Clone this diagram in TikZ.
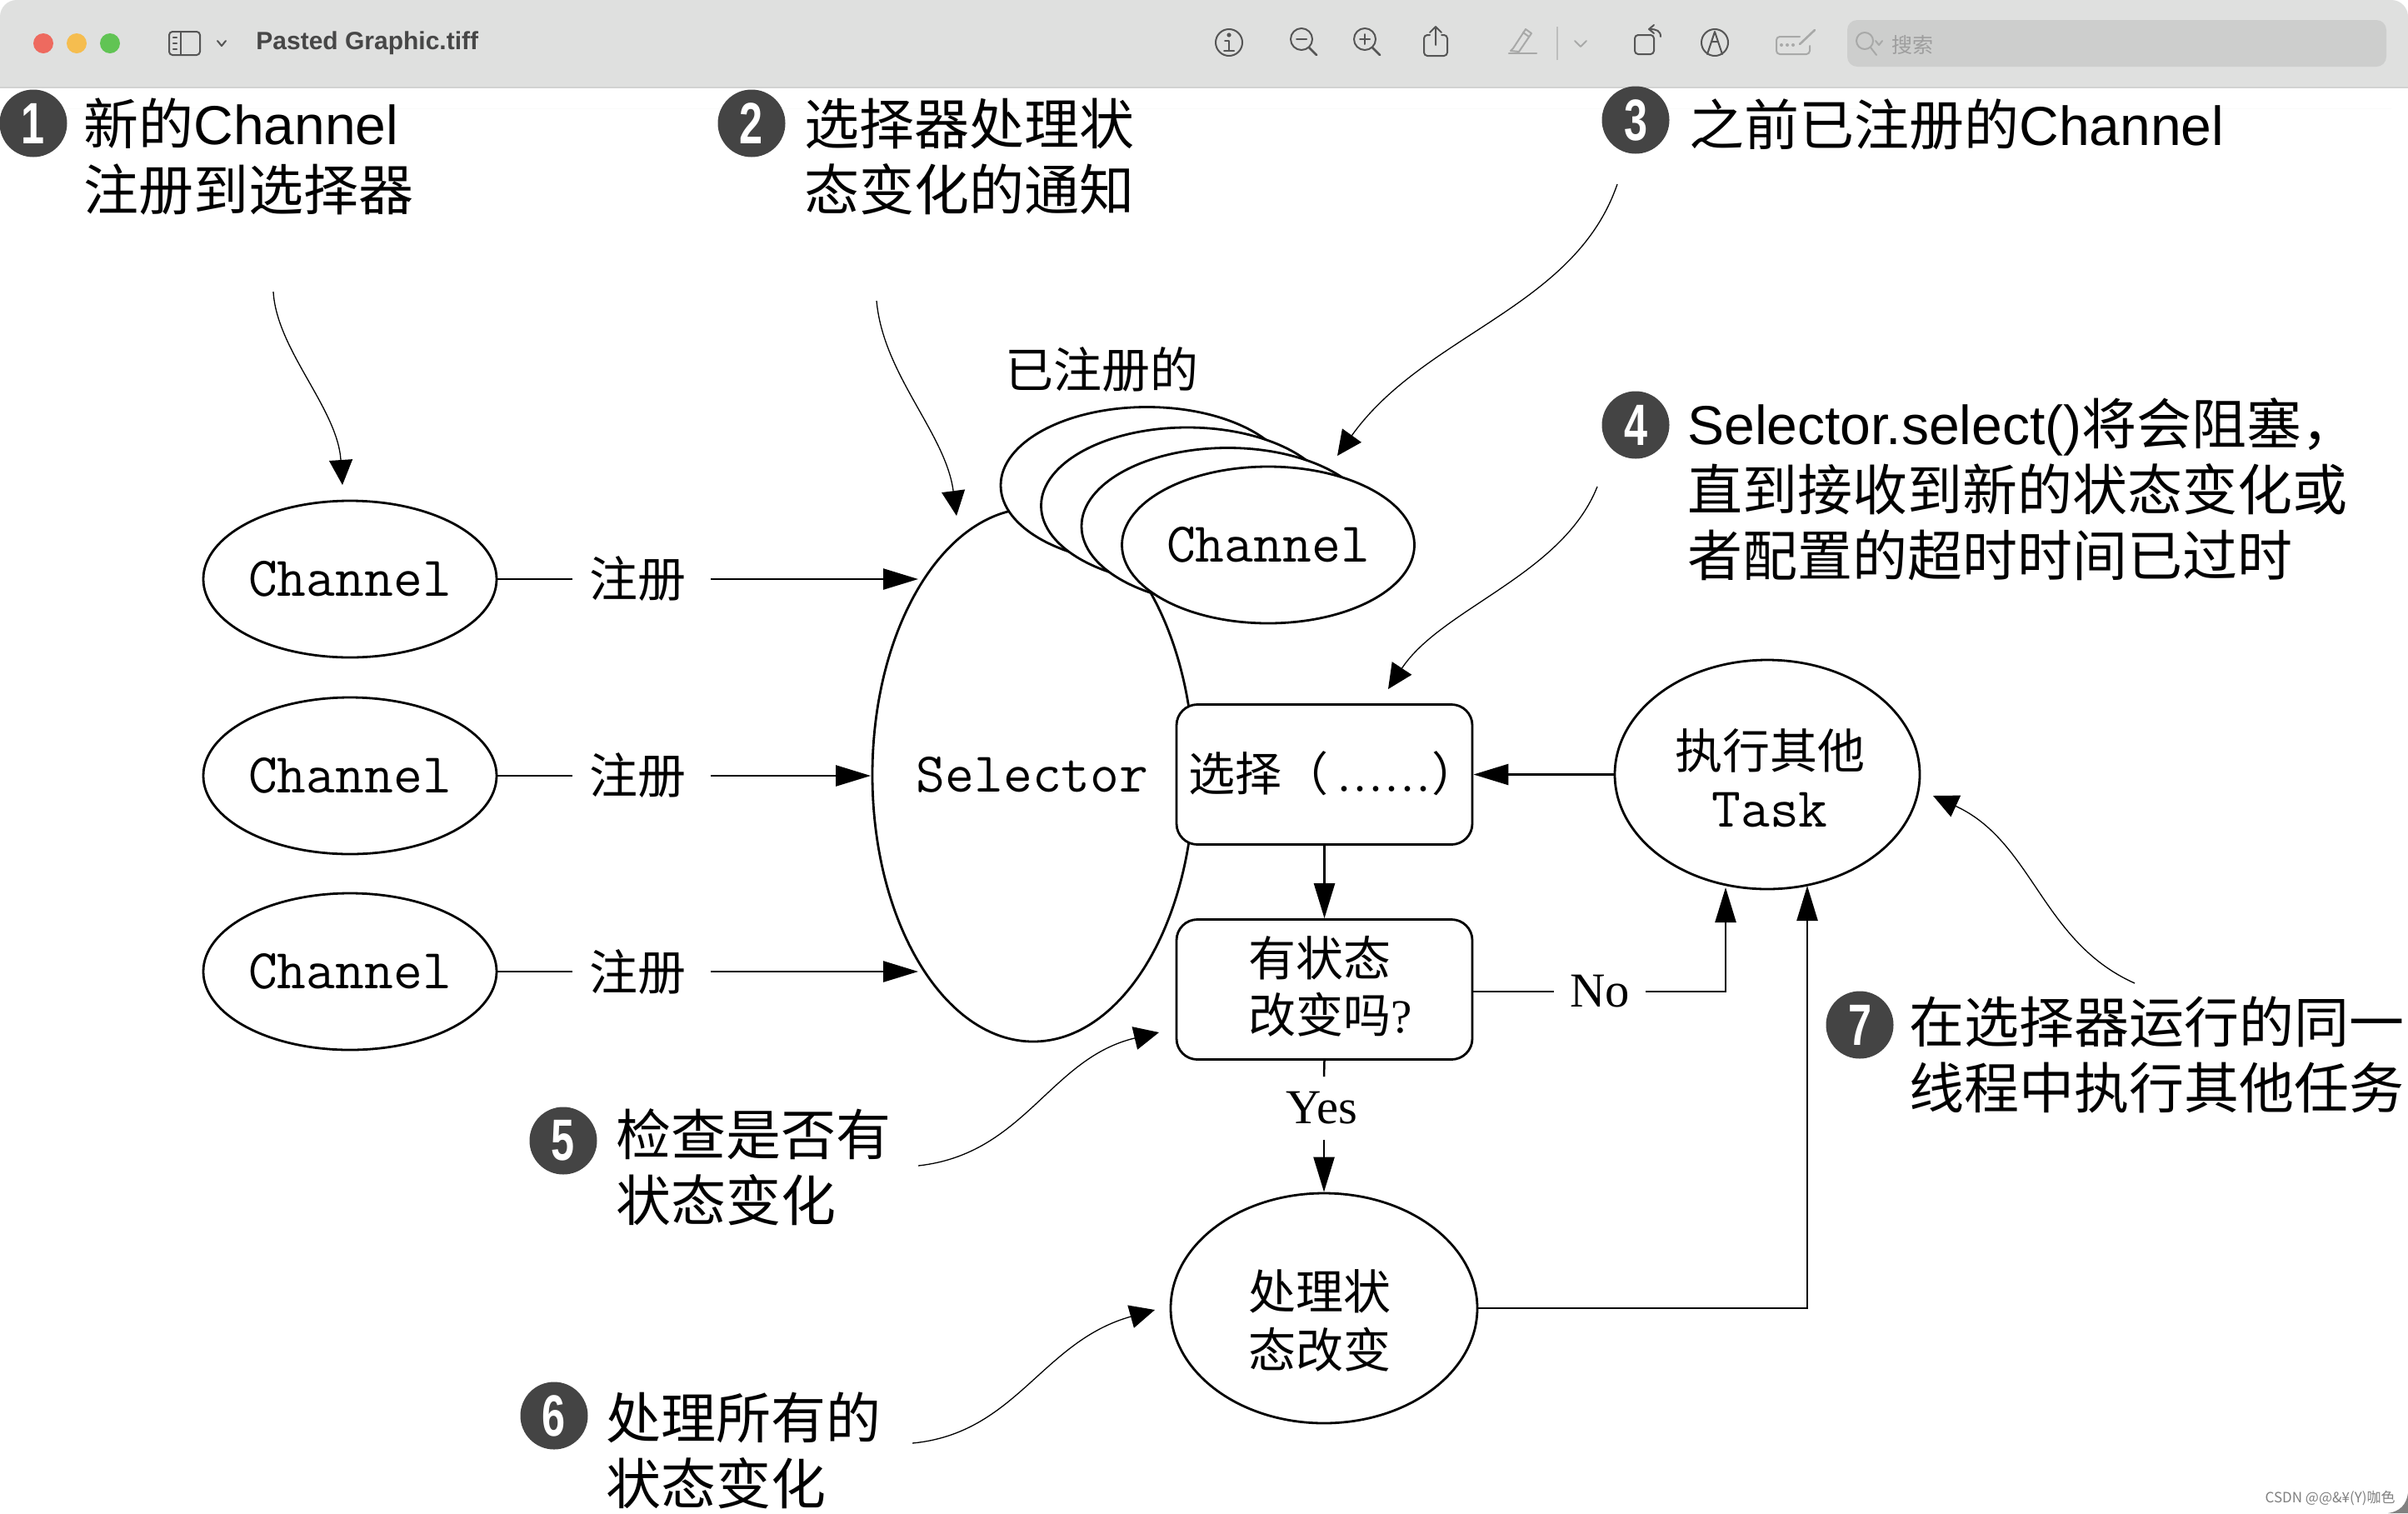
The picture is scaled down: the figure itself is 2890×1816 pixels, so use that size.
\documentclass[tikz,border=0pt]{standalone}
\usepackage{fontspec}
\usetikzlibrary{shapes.geometric,arrows.meta}
\setmainfont{Liberation Sans}
\newfontfamily\cjk{Noto Sans CJK SC}
\newfontfamily\serf{Liberation Serif}
\newfontfamily\numf[FakeStretch=0.72]{Liberation Sans Bold}
\definecolor{barbg}{HTML}{DFE0DF}
\definecolor{barline}{HTML}{D2D3D2}
\definecolor{searchbg}{HTML}{CDCECD}
\definecolor{icondark}{HTML}{555555}
\definecolor{iconlight}{HTML}{A8A9A8}
\definecolor{badge}{HTML}{444444}
\newcommand\monotxt{\fontsize{33.8}{35}\ttfamily}
\newcommand\regtxt{\hspace*{-2.5pt}\raisebox{1pt}{注册}\hspace*{2.5pt}}
\newcommand\dott{\makebox[9.5pt]{.}}
\tikzset{
  x=0.5pt,y=-0.5pt,
  bigtip/.tip={Triangle[length=21pt,width=12.5pt]},
  smalltip/.tip={Triangle[length=15pt,width=14pt]},
  shape line/.style={draw=black,line width=1.4pt,fill=white},
  oval/.style={shape line,ellipse,inner sep=0pt,align=center},
  chanoval/.style={oval,minimum width=176pt,minimum height=94pt,font=\monotxt},
  stepbox/.style={shape line,rectangle,rounded corners=12.5pt,inner sep=0pt,minimum width=177.5pt,minimum height=84pt},
  conn/.style={draw=black,line width=1.25pt,-{bigtip}},
  plainconn/.style={draw=black,line width=1.25pt},
  callconn/.style={draw=black,line width=0.65pt,-{smalltip}},
  reglabel/.style={inner sep=0pt,minimum width=82.5pt,minimum height=30pt,font=\fontsize{29}{30}\cjk},
  inlabel/.style={inner sep=0pt,align=center,font=\fontsize{28.5}{35}\cjk},
  badgenode/.style={circle,fill=badge,minimum size=40.5pt,inner sep=0pt,text=white,font=\fontsize{35}{35}\numf},
  callout/.style={anchor=west,inner sep=0pt,align=left,font=\fontsize{33}{39.6}\selectfont},
  icon/.style={draw=icondark,line width=1pt,line cap=round,line join=round},
  iconl/.style={draw=iconlight,line width=1pt,line cap=round,line join=round},
}
\begin{document}
\begin{tikzpicture}
\useasboundingbox (0,0) rectangle (2890,1816);
\fill[white] (0,0) rectangle (2890,1816);
% bottom right window corner
\fill[black!50] (2890,1816) -- (2866,1816) .. controls (2880,1814) and (2888,1806) .. (2890,1792) -- cycle;
% title bar
\fill[barbg,rounded corners=10pt] (0,0) rectangle (2890,130);
\fill[barbg] (0,60) rectangle (2890,105);
\fill[white] (0,105) rectangle (2890,130);
\fill[barline] (0,104) rectangle (2890,106);
\fill[searchbg,rounded corners=6pt] (2217,24) rectangle (2864,80);
% traffic lights
\fill[fill={rgb,255:red,238;green,106;blue,95}] (52,52) circle[radius=12];
\fill[fill={rgb,255:red,245;green,189;blue,79}] (92,52) circle[radius=12];
\fill[fill={rgb,255:red,97;green,196;blue,84}] (132,52) circle[radius=12];
% sidebar icon
\draw[icon,rounded corners=2pt] (203,38) rectangle (240,66);
\draw[icon] (217,38) -- (217,66);
\draw[icon,line width=1.1pt] (208,45) -- (212,45) (208,52) -- (212,52) (208,59) -- (212,59);
\draw[icon] (261,49) -- (266,55) -- (271,49);
\node[anchor=west,inner sep=0pt,text=black!72,font=\fontsize{15}{16}\bfseries] (wintitle) at (307,52) {Pasted Graphic.tiff};
% toolbar icons
\draw[icon] (1475,51) circle[radius=16];
\fill[icondark] (1475,42) circle[radius=2.6];
\draw[icon] (1470,49) -- (1475,49) -- (1475,61) (1469,61) -- (1481,61);
\draw[icon] (1562,47) circle[radius=13];
\draw[icon] (1556,47) -- (1568,47);
\draw[icon,line width=1.4pt] (1571,57) -- (1580,66);
\draw[icon] (1638,47) circle[radius=13];
\draw[icon] (1632,47) -- (1644,47) (1638,41) -- (1638,53);
\draw[icon,line width=1.4pt] (1647,57) -- (1656,66);
\draw[icon,rounded corners=2pt] (1716,42) -- (1709,42) -- (1709,67) -- (1737,67) -- (1737,42) -- (1730,42);
\draw[icon] (1723,54) -- (1723,32) (1716,39) -- (1723,32) -- (1730,39);
\draw[iconl] (1816,58) -- (1831,35) -- (1838,40) -- (1823,62) -- (1813,61) -- cycle (1828,39) -- (1835,44);
\draw[iconl,line width=1.3pt] (1811,64) -- (1844,64);
\draw[draw=barline!90!black,line width=0.6pt] (1869,32) -- (1869,72);
\draw[iconl] (1890,49) -- (1897,56) -- (1904,49);
\draw[icon,rounded corners=2pt] (1962,42) rectangle (1985,65);
\draw[icon] (1993,44) .. controls (1993,37) and (1988,35) .. (1980,35) (1985,30) -- (1979,35) -- (1985,40);
\draw[icon] (2058,51) circle[radius=16];
\draw[icon] (2049,65) -- (2058,38) -- (2067,65) (2054,50) -- (2062,50);
\draw[iconl,rounded corners=2pt] (2172,55) -- (2172,65) -- (2132,65) -- (2132,44) -- (2160,44);
\fill[iconlight] (2138,54) circle[radius=2] (2145,54) circle[radius=2] (2152,54) circle[radius=2];
\draw[iconl,line width=1.3pt] (2160,53) -- (2178,36);
\draw[iconl] (2238,49) circle[radius=10];
\draw[iconl] (2245,57) -- (2252,66);
\draw[iconl] (2251,49) -- (2255,54) -- (2259,49);
\node[inner sep=0pt,text=black!38,font=\fontsize{12.5}{13}\cjk] (searchtext) at (2295,54) {搜索};

% main shapes
\node[oval,minimum width=193pt,minimum height=320pt] (sel) at (1240,930) {};
\node[inner sep=0pt,font=\monotxt] (seltitle) at (1239,930) {Selector};
\node[oval,minimum width=175.5pt,minimum height=94pt] (st1) at (1376.5,582.5) {};
\node[oval,minimum width=175.5pt,minimum height=94pt] (st2) at (1425,607) {};
\node[oval,minimum width=175.5pt,minimum height=94pt] (st3) at (1473.5,631.5) {};
\node[chanoval,minimum width=175.5pt] (st4) at (1522,654) {Channel};
\node[inner sep=0pt,font=\fontsize{29}{30}\cjk] (reglbl) at (1322,444) {已注册的};

\node[chanoval] (ch1) at (420,695) {Channel};
\node[chanoval] (ch2) at (420,931) {Channel};
\node[chanoval] (ch3) at (420,1166) {Channel};
\node[reglabel] (r1) at (770,695) {\regtxt};
\node[reglabel] (r2) at (770,931) {\regtxt};
\node[reglabel] (r3) at (770,1166) {\regtxt};
\coordinate (s1) at (1102,695);
\coordinate (s2) at (1045,931);
\coordinate (s3) at (1102,1166);
\draw[plainconn] (ch1.east) -- (r1.west);
\draw[plainconn] (ch2.east) -- (r2.west);
\draw[plainconn] (ch3.east) -- (r3.west);
\draw[conn] (r1.east) -- (s1);
\draw[conn] (r2.east) -- (s2);
\draw[conn] (r3.east) -- (s3);

\node[stepbox] (selbox) at (1589.5,929.5) {};
\node[stepbox] (state) at (1589.5,1187.5) {};
\node[oval,minimum width=184pt,minimum height=138pt] (proc) at (1589,1570) {};
\node[oval,minimum width=183pt,minimum height=137.5pt] (task) at (2121,929.5) {};
\node[inlabel,anchor=west,font=\fontsize{28}{35}\cjk] (seltext) at (1426,928) {选择（\hspace*{5pt}{\serf\dott\dott\dott\dott\dott\dott}）};
\node[inlabel,align=left,anchor=west,font=\fontsize{28.5}{34}\cjk] (statetext) at (1498,1184) {有状态\\改变吗{\serf ?}};
\node[inlabel] (proctext) at (1584,1585) {处理状\\态改变};
\node[inlabel] (tasktext) at (2124,934) {执行其他\\{\monotxt Task}};
\node[inner sep=0pt,minimum width=54.5pt,minimum height=30pt,font=\fontsize{29.3}{30}\serf] (no) at (1920,1190) {No};
\node[inner sep=0pt,minimum height=37.5pt,minimum width=45pt,font=\fontsize{29.3}{30}\serf] (yes) at (1589,1330) {\hspace*{-1.25pt}\raisebox{-3pt}{Yes}\hspace*{1.25pt}};
\coordinate (tA) at (2071,1065);
\coordinate (tB) at (2169,1063);
\draw[conn] (task.west) -- (selbox.east);
\draw[conn] (selbox.south) -- (state.north);
\draw[plainconn] (state.south) -- (yes.north);
\draw[conn] (yes.south) -- (proc.north);
\draw[plainconn] (state.east |- no.west) -- (no.west);
\draw[conn] (no.east) -| (tA);
\draw[conn] (proc.east) -| (tB);

% callouts
\node[badgenode] (b1) at (40,148) {1};
\node[badgenode] (b2) at (902,148) {2};
\node[badgenode] (b3) at (1963,144) {3};
\node[badgenode] (b4) at (1963,510) {4};
\node[badgenode] (b5) at (676,1369) {5};
\node[badgenode] (b6) at (665,1699) {6};
\node[badgenode] (b7) at (2232,1230) {7};
\node[callout] (c1) at (100,188) {{\cjk 新的}Channel\\{\cjk 注册到选择器}};
\node[callout] (c2) at (965,188) {{\cjk 选择器处理状}\\{\cjk 态变化的通知}};
\node[callout] (c3) at (2027,149) {{\cjk 之前已注册的}Channel};
\node[callout] (c4) at (2025,587) {Selector.select(){\cjk 将会阻塞，}\\{\cjk 直到接收到新的状态变化或}\\{\cjk 者配置的超时时间已过时}};
\node[callout] (c5) at (739,1401) {{\cjk 检查是否有}\\{\cjk 状态变化}};
\node[callout] (c6) at (727,1741) {{\cjk 处理所有的}\\{\cjk 状态变化}};
\node[callout] (c7) at (2291,1266) {{\cjk 在选择器运行的同一}\\{\cjk 线程中执行其他任务}};
\coordinate (f1) at (328,350);  \coordinate (e1) at (411,582);
\coordinate (f2) at (1052,361); \coordinate (e2) at (1148,619);
\coordinate (f3) at (1941,221); \coordinate (e3) at (1605,547);
\coordinate (f4) at (1917,584); \coordinate (e4) at (1666,827);
\coordinate (f5) at (1102,1399);\coordinate (e5) at (1391,1239);
\coordinate (f6) at (1095,1732);\coordinate (e6) at (1386,1572);
\coordinate (f7) at (2562,1180);\coordinate (e7) at (2320,955);
\draw[callconn] (f1) .. controls (332,420) and (405,490) .. (e1);
\draw[callconn] (f2) .. controls (1060,450) and (1135,520) .. (e2);
\draw[callconn] (f3) .. controls (1890,370) and (1710,400) .. (e3);
\draw[callconn] (f4) .. controls (1875,690) and (1730,730) .. (e4);
\draw[callconn] (f5) .. controls (1230,1385) and (1260,1270) .. (e5);
\draw[callconn] (f6) .. controls (1220,1720) and (1250,1610) .. (e6);
\draw[callconn] (f7) .. controls (2450,1130) and (2440,1010) .. (e7);
\node[anchor=east,inner sep=0pt,text=black!50,font=\fontsize{8.5}{9}\cjk] (mark) at (2875,1798) {CSDN @@\&¥(Y)咖色};
\end{tikzpicture}
\end{document}
